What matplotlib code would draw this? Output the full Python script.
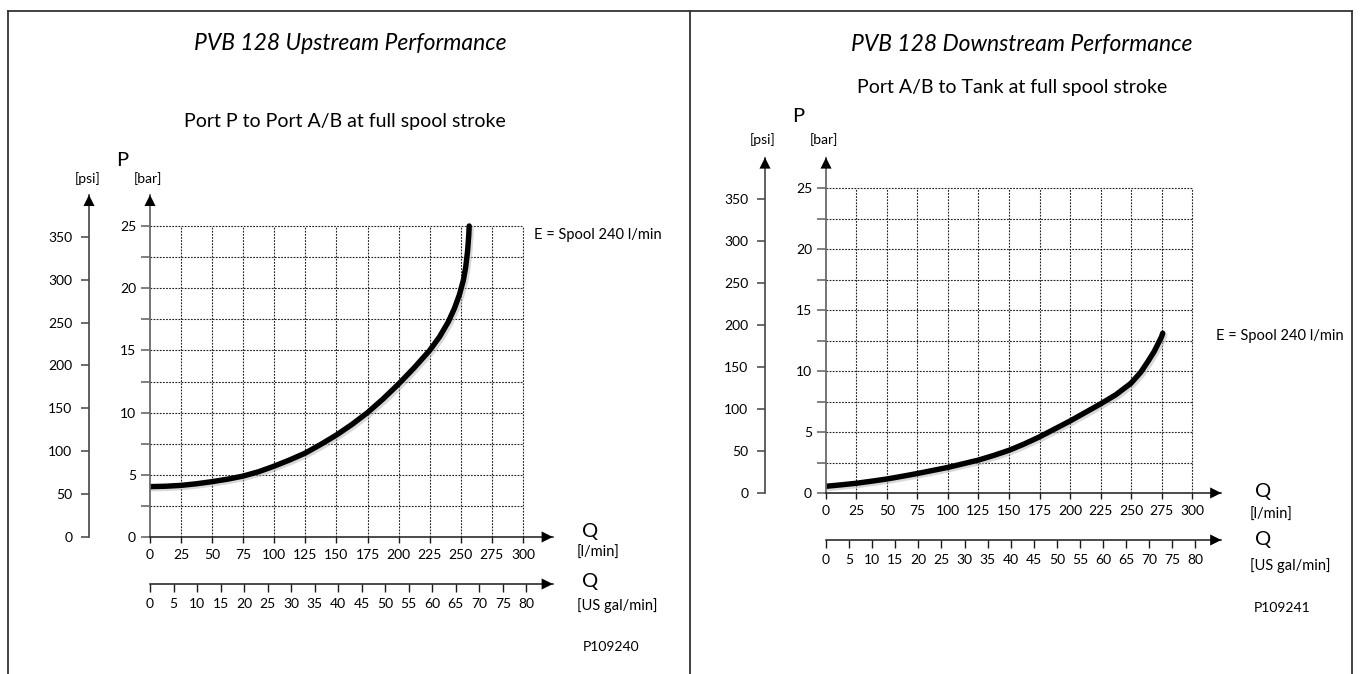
import numpy as np
import matplotlib
matplotlib.use("Agg")
import matplotlib.pyplot as plt
from matplotlib import patheffects as pe
from matplotlib.lines import Line2D

plt.rcParams['font.family'] = ['Lato', 'DejaVu Sans']

BAR_TO_PSI = 14.5038
LPM_PER_GAL = 3.78541

# upstream, port P -> port A/B (l/min, bar)
up_q = [0, 12.5, 25, 37.5, 50, 62.5, 75, 87.5, 100, 112.5, 125, 137.5, 150, 162.5,
        175, 187.5, 200, 212.5, 225, 233, 240, 245, 249, 252, 254, 255.5, 256.4, 256.8]
up_p = [4.05, 4.08, 4.15, 4.28, 4.45, 4.65, 4.9, 5.25, 5.7, 6.2, 6.75, 7.45, 8.2, 9.05,
        10.0, 11.1, 12.3, 13.6, 15.0, 16.1, 17.3, 18.4, 19.5, 20.6, 21.7, 23.0, 24.2, 25.0]

# downstream, port A/B -> tank
down_q = [0, 12.5, 25, 37.5, 50, 62.5, 75, 87.5, 100, 112.5, 125, 137.5, 150, 162.5,
          175, 187.5, 200, 212.5, 225, 237.5, 250, 258, 264, 269, 272.5, 275, 276]
down_p = [0.55, 0.67, 0.8, 0.97, 1.15, 1.37, 1.6, 1.85, 2.1, 2.4, 2.7, 3.08, 3.5, 4.02,
          4.6, 5.25, 5.9, 6.6, 7.3, 8.05, 9.0, 9.9, 10.8, 11.6, 12.3, 12.8, 13.1]

q_ticks = np.arange(0, 301, 25)
p_ticks = np.arange(0, 26, 5)
p_grid = np.arange(2.5, 25.1, 2.5)
psi_ticks = np.arange(0, 351, 50)
gal_ticks = np.arange(0, 81, 5)

W, H = 1360, 674
fig = plt.figure(figsize=(W / 100, H / 100), dpi=100)

TICK_FS = 10


def px(x, y):
    return x / W, 1 - y / H


def add_text(x, y, s, **kw):
    fig.text(*px(x, y), s, **kw)


def arrow(ax, x, y, dx, dy):
    ax.annotate('', xy=(x, y), xytext=(x - dx, y - dy), xycoords='axes fraction',
                arrowprops=dict(arrowstyle='-|>', color='black', lw=0,
                                mutation_scale=20, shrinkA=0, shrinkB=0))


def panel(x0, x_px, y0, y_px, q, p):
    # x0,y0 = pixel origin (0 l/min, 0 bar); x_px, y_px = pixels per unit
    x1 = x0 + 324 * x_px
    top = y0 - 27.5 * y_px
    ax = fig.add_axes([x0 / W, 1 - y0 / H, (x1 - x0) / W, (y0 - top) / H])
    ax.set_xlim(0, 324)
    ax.set_ylim(0, 27.5)
    ax.patch.set_alpha(0)
    for s in ['top', 'right']:
        ax.spines[s].set_visible(False)
    ax.spines['left'].set_color('#6a6a6a')
    ax.spines['left'].set_linewidth(1.3)
    ax.spines['bottom'].set_color('#1a1a1a')
    ax.spines['bottom'].set_linewidth(1.1)

    ax.set_xticks(q_ticks)
    ax.set_yticks(p_ticks)
    ax.set_yticks(p_grid[::2], minor=True)
    ax.tick_params(axis='y', which='both', direction='out', length=6.5, width=1.2,
                   color='#6a6a6a', pad=3.5, labelsize=TICK_FS)
    ax.tick_params(axis='x', direction='out', length=4.5, width=1.0,
                   color='#1a1a1a', pad=4, labelsize=TICK_FS)

    # dotted grid up to 300 l/min / 25 bar
    ax.vlines(q_ticks[1:], 0, 25, colors='#222222', linewidth=0.8,
              linestyles=(0, (1.6, 1.2)))
    ax.hlines(p_grid, 0, 300, colors='#222222', linewidth=0.8,
              linestyles=(0, (1.6, 1.2)))

    ax.plot(q, p, color='black', lw=3.9, solid_capstyle='round', solid_joinstyle='round',
            path_effects=[pe.SimpleLineShadow(offset=(1.5, -1.5), shadow_color='0.7', alpha=0.5),
                          pe.Normal()])

    arrow(ax, 1, 0, 0.03, 0)
    arrow(ax, 0, 1, 0, 0.03)

    # psi axis
    off_y = -61 / (x1 - x0)
    sec = ax.secondary_yaxis(off_y, functions=(lambda b: b * BAR_TO_PSI,
                                               lambda s: s / BAR_TO_PSI))
    sec.set_yticks(psi_ticks)
    sec.spines['left'].set_color('#444444')
    sec.spines['left'].set_linewidth(1.2)
    sec.tick_params(direction='out', length=6, width=1.1, color='#444444',
                    pad=6, labelsize=TICK_FS)
    arrow(ax, off_y, 1, 0, 0.03)

    # US gal/min axis
    off_x = -47 / (y0 - top)
    gal = ax.secondary_xaxis(off_x, functions=(lambda l: l / LPM_PER_GAL,
                                               lambda g: g * LPM_PER_GAL))
    gal.set_xticks(gal_ticks)
    gal.spines['bottom'].set_color('#1a1a1a')
    gal.spines['bottom'].set_linewidth(1.1)
    gal.tick_params(direction='out', length=6, width=1.0, color='#1a1a1a',
                    pad=4, labelsize=TICK_FS)
    arrow(ax, 1, off_x, 0.03, 0)
    return ax


panel(150, 1.243, 537, 12.44, up_q, up_p)
panel(826, 1.22, 493, 12.2, down_q, down_p)

# frame
for xs, ys in [([8, 8], [674, 11]), ([8, 1352], [11, 11]),
               ([690, 690], [674, 11]), ([1352, 1352], [674, 11])]:
    fig.add_artist(Line2D([x / W for x in xs], [1 - y / H for y in ys],
                          color='#333333', lw=1.3))

# left texts
add_text(350, 44, 'PVB 128 Upstream Performance', ha='center', va='center',
         fontsize=16.5, style='italic')
add_text(345, 122, 'Port P to Port A/B at full spool stroke', ha='center',
         va='center', fontsize=14)
add_text(122, 160, 'P', ha='center', va='center', fontsize=14.5)
add_text(88, 179, '[psi]', ha='center', va='center', fontsize=10)
add_text(148, 179, '[bar]', ha='center', va='center', fontsize=10)
add_text(534, 235, 'E = Spool 240 l/min', ha='left', va='center', fontsize=10.5)
add_text(582, 532, 'Q', ha='left', va='center', fontsize=14.5)
add_text(577, 553, '[l/min]', ha='left', va='center', fontsize=10.5)
add_text(582, 582, 'Q', ha='left', va='center', fontsize=14.5)
add_text(577, 606, '[US gal/min]', ha='left', va='center', fontsize=10.5)
add_text(583, 647, 'P109240', ha='left', va='center', fontsize=10)

# right texts
add_text(1022, 44, 'PVB 128 Downstream Performance', ha='center', va='center',
         fontsize=16.5, style='italic')
add_text(1012, 88, 'Port A/B to Tank at full spool stroke', ha='center',
         va='center', fontsize=14)
add_text(798, 117, 'P', ha='center', va='center', fontsize=14.5)
add_text(763, 140, '[psi]', ha='center', va='center', fontsize=10)
add_text(824, 140, '[bar]', ha='center', va='center', fontsize=10)
add_text(1216, 336, 'E = Spool 240 l/min', ha='left', va='center', fontsize=10.5)
add_text(1255, 492, 'Q', ha='left', va='center', fontsize=14.5)
add_text(1250, 515, '[l/min]', ha='left', va='center', fontsize=10.5)
add_text(1255, 539, 'Q', ha='left', va='center', fontsize=14.5)
add_text(1250, 566, '[US gal/min]', ha='left', va='center', fontsize=10.5)
add_text(1254, 608, 'P109241', ha='left', va='center', fontsize=10)

fig.savefig('out.png', dpi=100)
